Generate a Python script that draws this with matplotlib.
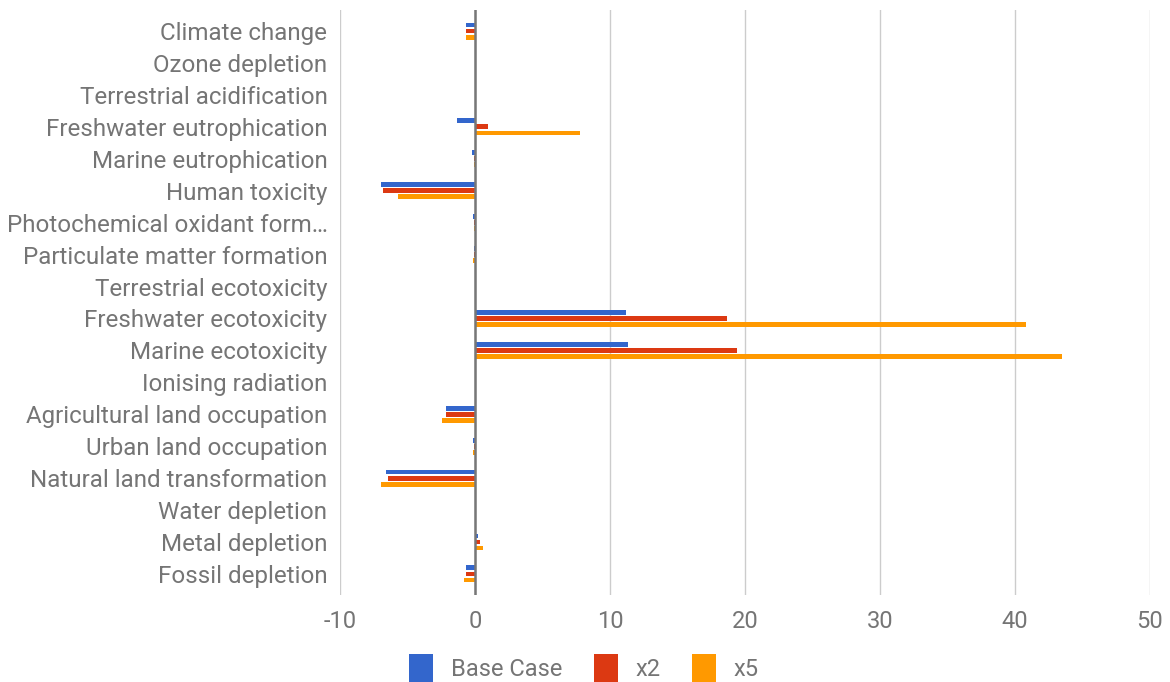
import numpy as np
import matplotlib.pyplot as plt

categories = ["Climate change", "Ozone depletion", "Terrestrial acidification",
              "Freshwater eutrophication", "Marine eutrophication", "Human toxicity",
              "Photochemical oxidant form\u2026", "Particulate matter formation",
              "Terrestrial ecotoxicity", "Freshwater ecotoxicity", "Marine ecotoxicity",
              "Ionising radiation", "Agricultural land occupation", "Urban land occupation",
              "Natural land transformation", "Water depletion", "Metal depletion",
              "Fossil depletion"]
base_case = [-0.65, 0.0, 0.0, -1.3, -0.2, -7.0, -0.12, -0.05, 0.04, 11.2, 11.3, 0.0,
             -2.15, -0.15, -6.6, 0.0, 0.2, -0.65]
x2 = [-0.7, 0.0, 0.0, 0.95, -0.05, -6.8, -0.1, -0.05, 0.04, 18.7, 19.4, 0.0,
      -2.15, -0.1, -6.45, 0.0, 0.35, -0.65]
x5 = [-0.7, 0.0, 0.0, 7.8, -0.05, -5.7, -0.1, -0.15, 0.04, 40.8, 43.5, 0.0,
      -2.45, -0.15, -7.0, 0.0, 0.6, -0.8]
series = [("Base Case", base_case, "#3366cc"), ("x2", x2, "#dc3912"), ("x5", x5, "#ff9900")]

plt.rcParams['font.family'] = ['Roboto', 'DejaVu Sans']
plt.rcParams['axes.unicode_minus'] = False
fig = plt.figure(figsize=(11.7, 6.82), dpi=100)
ax = fig.add_axes([340/1170, 1-595/682, 810/1170, 585/682])

y = np.arange(len(categories))
off = 0.19
for i, (name, vals, col) in enumerate(series):
    ax.barh(y + (i-1)*off, vals, height=0.15, color=col, label=name, zorder=3)

ax.set_xlim(-10, 50)
ax.set_ylim(17.66, -0.66)
ax.set_xticks(range(-10, 51, 10))
ax.set_yticks(y)
ax.set_yticklabels(categories)
ax.grid(axis='x', color='#cccccc', linewidth=1, zorder=0)
ax.axvline(0, color='#777777', linewidth=1.8, zorder=4)
for s in ax.spines.values():
    s.set_visible(False)
ax.tick_params(axis='y', length=0, pad=9, labelsize=17.4, labelcolor='#757575')
ax.tick_params(axis='x', length=0, pad=11, labelsize=17, labelcolor='#757575')

fig.legend(loc='center', bbox_to_anchor=(584/1170, 1-668/682), ncol=3, frameon=False,
           fontsize=17, labelcolor='#757575', handlelength=1.0, handleheight=1.4,
           columnspacing=1.35, handletextpad=0.75)
fig.savefig('out.png', dpi=100)
